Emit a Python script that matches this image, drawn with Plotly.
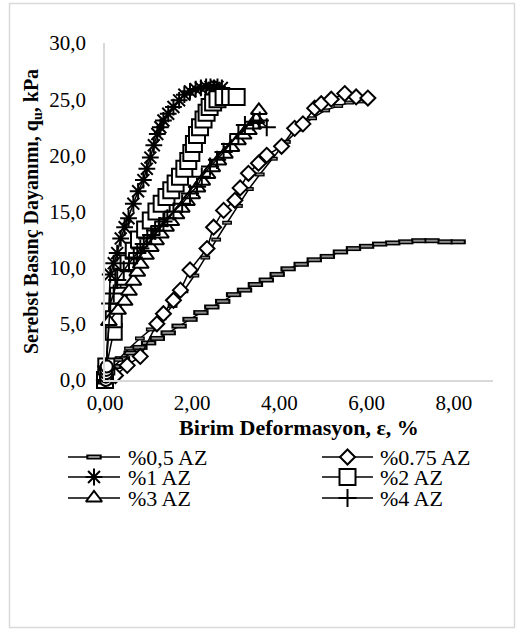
import plotly.graph_objects as go

# ---------------- data ----------------
x05 = [0.00, 0.05, 0.20, 0.40, 0.60, 0.80, 1.00, 1.20, 1.45, 1.70, 1.95, 2.20, 2.45, 2.70, 2.95, 3.20,
       3.45, 3.70, 3.95, 4.20, 4.50, 4.80, 5.10, 5.40, 5.70, 6.00, 6.30, 6.60, 6.90, 7.20, 7.50, 7.80, 8.10]
y05 = [0.0, 0.3, 1.2, 1.9, 2.4, 2.9, 3.3, 3.7, 4.2, 4.8, 5.4, 6.0, 6.5, 7.0, 7.6, 8.0,
       8.5, 8.9, 9.4, 9.9, 10.3, 10.7, 11.0, 11.4, 11.7, 11.9, 12.1, 12.2, 12.3, 12.4, 12.4, 12.3, 12.3]

xdash = [0.30, 0.55, 0.80, 1.05, 1.30, 1.55, 1.80, 2.05, 2.30, 2.55, 2.80, 3.05, 3.30, 3.55, 3.85,
         4.15, 4.45, 4.75, 5.05, 5.35, 5.60, 5.85]
ydash = [1.8, 2.8, 3.7, 4.5, 5.5, 6.6, 7.9, 9.3, 10.9, 12.5, 14.0, 15.5, 17.0, 18.3, 19.7,
         21.2, 22.3, 23.3, 24.0, 24.4, 24.7, 24.8]

x075 = [0.24, 0.51, 0.81, 1.19, 1.34, 1.57, 1.73, 1.95, 2.34, 2.49, 2.72, 2.98, 3.10, 3.29, 3.52,
        3.71, 4.05, 4.35, 4.54, 4.81, 4.96, 5.19, 5.50, 5.76, 6.03]
y075 = [0.4, 1.3, 2.1, 5.0, 5.9, 7.1, 8.0, 9.8, 11.7, 13.6, 15.1, 16.0, 17.1, 18.4, 19.3,
        20.0, 20.8, 22.4, 22.8, 24.2, 24.6, 25.0, 25.5, 25.2, 25.1]

x1 = [0.00, 0.03, 0.12, 0.20, 0.28, 0.36, 0.45, 0.54, 0.65, 0.76, 0.88, 0.96, 1.04, 1.12, 1.20,
      1.27, 1.34, 1.45, 1.57, 1.70, 1.82, 1.95, 2.08, 2.20, 2.32, 2.42, 2.50, 2.58, 2.68]
y1 = [0.0, 1.2, 9.4, 10.4, 11.3, 12.6, 13.6, 14.4, 15.7, 16.8, 17.8, 18.8, 19.8, 20.9, 21.9,
      22.5, 23.1, 23.7, 24.3, 24.9, 25.4, 25.7, 25.9, 26.0, 26.1, 26.1, 26.0, 26.1, 26.0]

x2 = [0.00, 0.03, 0.20, 0.20, 0.30, 0.42, 0.54, 0.66, 0.78, 0.92, 1.05, 1.18, 1.30, 1.41, 1.52,
      1.62, 1.72, 1.82, 1.91, 1.98, 2.04, 2.11, 2.18, 2.26, 2.33, 2.40, 2.48, 2.58, 2.72, 2.87, 3.02]
y2 = [0.0, 1.2, 4.3, 5.4, 7.5, 9.2, 10.4, 11.5, 12.5, 13.4, 14.2, 15.0, 15.7, 16.3, 16.9,
      17.5, 18.1, 18.8, 19.5, 20.2, 21.0, 21.8, 22.5, 23.2, 23.8, 24.3, 24.7, 25.0, 25.2, 25.2, 25.2]

x3 = [0.00, 0.03, 0.09, 0.30, 0.45, 0.55, 0.65, 0.74, 0.82, 0.94, 1.05, 1.17, 1.28, 1.40, 1.52,
      1.64, 1.76, 1.88, 2.00, 2.12, 2.23, 2.35, 2.46, 2.60, 2.75, 2.90, 3.05, 3.18, 3.30, 3.40, 3.47, 3.53]
y3 = [0.0, 1.2, 5.2, 6.2, 7.0, 7.9, 8.8, 9.6, 10.3, 11.1, 11.8, 12.4, 13.0, 13.6, 14.1,
      14.7, 15.3, 15.9, 16.5, 17.1, 17.7, 18.3, 18.9, 19.5, 20.1, 20.7, 21.3, 21.8, 22.2, 22.7, 23.2, 24.0]

x4 = [0.00, 0.03, 0.12, 0.20, 0.28, 0.43, 0.55, 0.66, 0.74, 0.81, 0.89, 0.97, 1.06, 1.15, 1.25,
      1.34, 1.43, 1.57, 1.77, 1.95, 2.11, 2.22, 2.41, 2.57, 2.72, 2.87, 3.06, 3.21, 3.40, 3.55, 3.71]
y4 = [0.0, 1.2, 6.8, 7.7, 8.9, 9.8, 10.4, 10.9, 11.3, 11.7, 12.1, 12.6, 12.9, 13.3, 13.7,
      14.1, 14.4, 15.0, 15.7, 16.6, 17.2, 18.1, 19.0, 19.6, 20.3, 21.0, 21.9, 22.7, 23.0, 23.1, 22.5]

xcirc = [0.02, 0.02, 0.03, 0.03, 0.04]
ycirc = [0.0, 0.3, 0.6, 0.9, 1.2]

names = ["%0,5 AZ", "%0.75 AZ", "%1 AZ", "%2 AZ", "%3 AZ", "%4 AZ"]

x_title = "Birim Deformasyon, ε, %"
y_title = "Serebst Basınç Dayanımı, q<sub>u</sub>, kPa"

# ---------------- layout geometry (pixels) ----------------
W, H = 518, 632
PLOT_L, PLOT_R, PLOT_T, PLOT_B = 105, 493, 43, 380
LEG_TOP = 432  # legend helper axes cover rows LEG_TOP..H


def fx(px):
    return px / W


def fy(py):
    return 1 - py / H


FONT = "Liberation Serif"
BLACK = "black"
GRAY_FILL = "#8c8c8c"
AXIS_GRAY = "#d9d9d9"
LW = 1.5

styles = [
    dict(symbol="line-ew", size=11, color=BLACK, line=dict(width=5, color=BLACK)),
    dict(symbol="diamond", size=11.5, color="white", line=dict(width=2, color=BLACK)),
    dict(symbol="asterisk-open", size=14, color=BLACK, line=dict(width=2, color=BLACK)),
    dict(symbol="square", size=16, color="white", line=dict(width=2, color=BLACK)),
    dict(symbol="triangle-up", size=14, color="white", line=dict(width=2, color=BLACK)),
    dict(symbol="cross-thin-open", size=13, color=BLACK, line=dict(width=2, color=BLACK)),
]
overlay05 = dict(symbol="line-ew", size=8, color=GRAY_FILL, line=dict(width=2, color=GRAY_FILL))

fig = go.Figure()


def series(x, y, marker, mode="lines+markers"):
    fig.add_trace(go.Scatter(x=x, y=y, mode=mode, showlegend=False, cliponaxis=False,
                             hoverinfo="skip", line=dict(color=BLACK, width=LW), marker=marker))


series(x05, y05, styles[0])
series(x05, y05, overlay05, mode="markers")
series(xdash, ydash, dict(symbol="line-ew", size=7, color=BLACK, line=dict(width=4, color=BLACK)))
series(xdash, ydash, dict(symbol="line-ew", size=5, color=GRAY_FILL, line=dict(width=1.5, color=GRAY_FILL)),
       mode="markers")
series(x075, y075, styles[1])
series(x1, y1, styles[2])
series(x2, y2, styles[3])
series(x3, y3, styles[4])
series(x4, y4, styles[5])
series(xcirc, ycirc, dict(symbol="circle", size=12, color="white", line=dict(width=2, color=BLACK)),
       mode="markers")

# ---------------- legend (drawn on a helper pixel axis) ----------------
leg_line_x = [(68, 120), (322, 373)]
leg_text_x = [126, 378]
leg_row_y = [457, 477, 498]
annotations = []
for i, nm in enumerate(names):
    r, c = divmod(i, 2)
    xa, xb = leg_line_x[c]
    yy = leg_row_y[r]
    fig.add_trace(go.Scatter(x=[xa, xb], y=[yy, yy], mode="lines", xaxis="x2", yaxis="y2",
                             showlegend=False, hoverinfo="skip", cliponaxis=False,
                             line=dict(color=BLACK, width=LW)))
    fig.add_trace(go.Scatter(x=[(xa + xb) / 2], y=[yy], mode="markers", xaxis="x2", yaxis="y2",
                             showlegend=False, hoverinfo="skip", cliponaxis=False,
                             marker=styles[i]))
    if i == 0:
        fig.add_trace(go.Scatter(x=[(xa + xb) / 2], y=[yy], mode="markers", xaxis="x2", yaxis="y2",
                                 showlegend=False, hoverinfo="skip", cliponaxis=False,
                                 marker=overlay05))
    annotations.append(dict(text=nm, x=fx(leg_text_x[c]), y=fy(yy), xref="paper", yref="paper",
                            xanchor="left", yanchor="middle", showarrow=False,
                            font=dict(family=FONT, size=22, color=BLACK)))

fig.update_layout(
    font=dict(family=FONT, color=BLACK),
    xaxis=dict(
        domain=[fx(PLOT_L), fx(PLOT_R)], range=[0, 8.9], dtick=2, tick0=0, tickformat=".2f",
        showgrid=False, zeroline=False, showline=True, linecolor=AXIS_GRAY, linewidth=1.5,
        ticks="", ticklabelstandoff=3, tickfont=dict(family=FONT, size=21, color=BLACK),
        title=dict(text=x_title, font=dict(family=FONT, size=22, color=BLACK, weight="bold"), standoff=3),
        automargin=False, anchor="y"),
    yaxis=dict(
        domain=[fy(PLOT_B), fy(PLOT_T)], range=[0, 30], dtick=5, tick0=0, tickformat=".1f",
        showgrid=False, zeroline=False, showline=True, linecolor=AXIS_GRAY, linewidth=1.5,
        ticks="", ticklabelstandoff=13, tickfont=dict(family=FONT, size=21, color=BLACK),
        title=dict(text=y_title, font=dict(family=FONT, size=20, color=BLACK, weight="bold"), standoff=5),
        automargin=False, anchor="x"),
    xaxis2=dict(domain=[0, 1], range=[0, W], visible=False, anchor="y2", fixedrange=True),
    yaxis2=dict(domain=[0, fy(LEG_TOP)], range=[H, LEG_TOP], visible=False, anchor="x2", fixedrange=True),
    width=W, height=H, margin=dict(l=0, r=0, t=0, b=0, pad=0),
    paper_bgcolor="white", plot_bgcolor="white",
    separators=",.",
    showlegend=False,
    annotations=annotations,
    shapes=[dict(type="rect", xref="paper", yref="paper",
                 x0=fx(9.5), x1=fx(514.5), y0=fy(627.5), y1=fy(3.5),
                 line=dict(color=AXIS_GRAY, width=1.5), fillcolor="rgba(0,0,0,0)", layer="below")],
)

fig.write_html("out.html")
